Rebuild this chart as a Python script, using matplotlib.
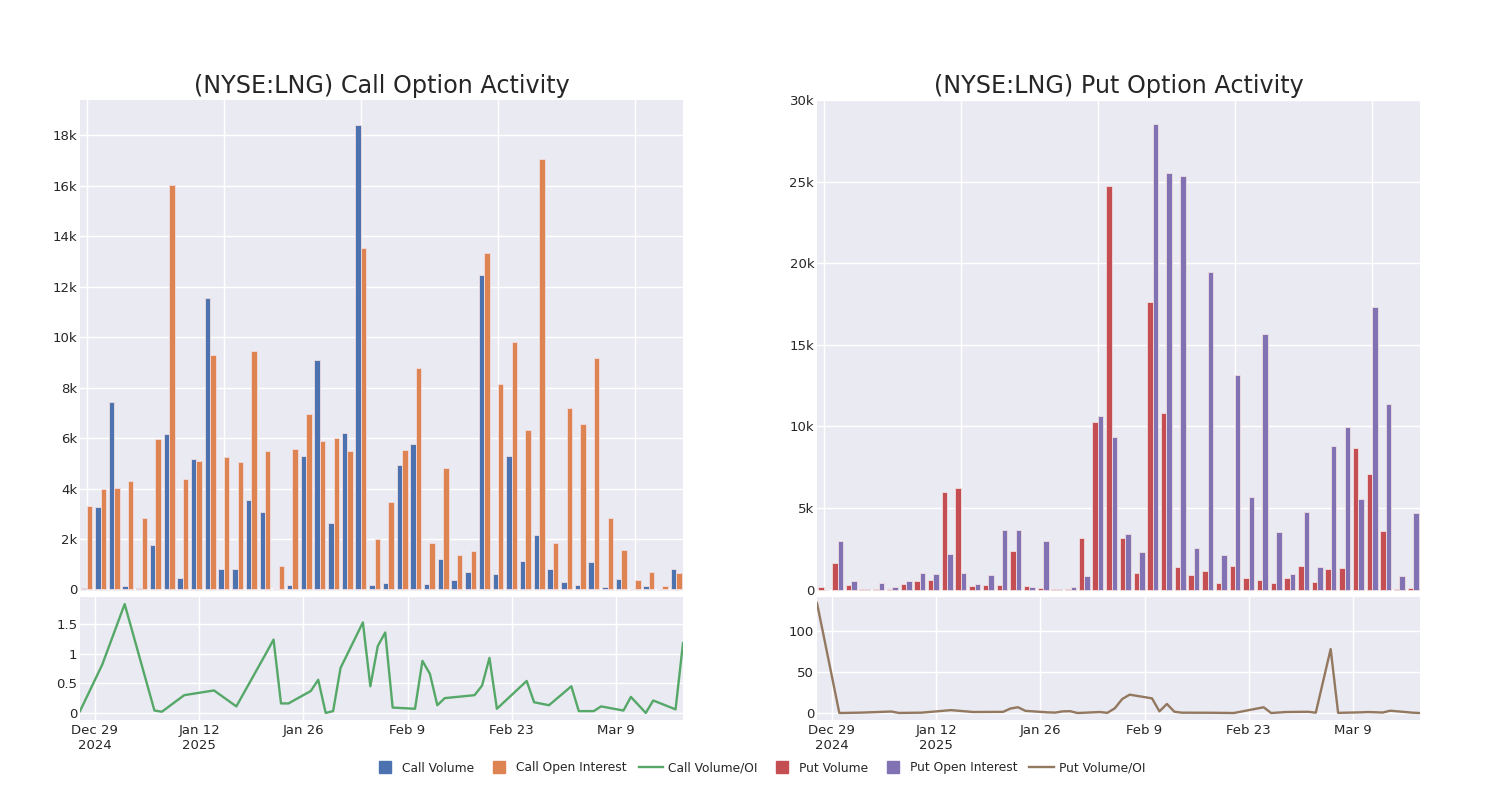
import numpy as np
import pandas as pd
import matplotlib
matplotlib.use("Agg")
import matplotlib.pyplot as plt
from matplotlib.ticker import FuncFormatter, FixedLocator
from matplotlib.lines import Line2D

# ---------------- data ----------------
dates = pd.to_datetime([
    "2024-12-27", "2024-12-30", "2025-01-02", "2025-01-06", "2025-01-07", "2025-01-10",
    "2025-01-14", "2025-01-17", "2025-01-21", "2025-01-22", "2025-01-23", "2025-01-24",
    "2025-01-27", "2025-01-28", "2025-01-29", "2025-01-30", "2025-01-31", "2025-02-03",
    "2025-02-04", "2025-02-05", "2025-02-06", "2025-02-07", "2025-02-10", "2025-02-11",
    "2025-02-12", "2025-02-13", "2025-02-14", "2025-02-18", "2025-02-19", "2025-02-20",
    "2025-02-21", "2025-02-25", "2025-02-26", "2025-02-28", "2025-03-03", "2025-03-04",
    "2025-03-06", "2025-03-07", "2025-03-10", "2025-03-11", "2025-03-13", "2025-03-14",
    "2025-03-17", "2025-03-18",
])

call_volume = [70, 3280, 7440, 140, 40, 1780, 6180, 470, 5190, 11550, 820, 820,
               3540, 3080, 0, 170, 5280, 9090, 2620, 6220, 18410, 160, 240, 4930,
               5780, 210, 1200, 380, 680, 12460, 600, 5300, 1140, 2170, 830, 290,
               180, 1070, 100, 410, 0, 120, 10, 800]
call_oi = [3320, 4000, 4030, 4300, 2820, 5970, 16030, 4390, 5100, 9300, 5270, 5060,
           9450, 5490, 930, 5570, 6940, 5870, 6000, 5490, 13540, 2000, 3470, 5540,
           8790, 1860, 4800, 1370, 1510, 13320, 8160, 9790, 6330, 17050, 1860, 7180,
           6570, 9160, 2830, 1550, 360, 680, 120, 670]
call_ratio = [0.03, 0.82, 1.84, 0.04, 0.02, 0.30, 0.38, 0.11, 1.01, 1.24, 0.16, 0.16,
              0.37, 0.56, 0.0, 0.03, 0.76, 1.53, 0.45, 1.13, 1.36, 0.09, 0.07, 0.88,
              0.66, 0.13, 0.25, 0.30, 0.46, 0.93, 0.07, 0.54, 0.18, 0.13, 0.45, 0.03,
              0.03, 0.11, 0.04, 0.27, 0.0, 0.21, 0.06, 1.18]

put_volume = [130, 1610, 300, 60, 30, 60, 350, 550, 570, 5950, 6220, 240, 290, 260,
              2360, 220, 80, 50, 20, 3140, 10290, 24740, 3140, 1000, 17650, 10820,
              1370, 880, 1160, 370, 1450, 730, 590, 370, 710, 1430, 490, 1260, 1300,
              8680, 7050, 3570, 30, 100]
put_oi = [0, 3000, 500, 40, 390, 160, 550, 1000, 940, 2180, 1020, 330, 860, 3630,
          3650, 180, 2950, 50, 180, 820, 10660, 9370, 3380, 2300, 28500, 25510,
          25370, 2530, 19440, 2120, 13170, 5650, 15690, 3500, 940, 4730, 1410, 8800,
          9990, 5540, 17300, 11370, 840, 4690]
put_ratio = [133.6, 0.0, 0.5, 1.8, 0.1, 0.4, 3.5, 1.2, 1.4, 5.5, 7.0, 2.6, 0.8, 0.5,
             2.0, 2.2, 0.0, 1.2, 0.2, 5.7, 17.0, 22.3, 17.8, 2.0, 11.0, 1.6, 0.4, 0.3,
             0.2, 0.1, 0.0, 7.0, 0.0, 1.2, 1.5, 0.4, 77.7, 0.2, 0.8, 1.2, 0.6, 2.8,
             0.4, 0.0]

date_ticks = pd.to_datetime(["2024-12-29", "2025-01-12", "2025-01-26",
                             "2025-02-09", "2025-02-23", "2025-03-09"])
date_tick_labels = ["Dec 29\n2024", "Jan 12\n2025", "Jan 26", "Feb 9", "Feb 23", "Mar 9"]

call_yticks = [0, 2000, 4000, 6000, 8000, 10000, 12000, 14000, 16000, 18000]
put_yticks = [0, 5000, 10000, 15000, 20000, 25000, 30000]
call_ratio_ticks = [0, 0.5, 1, 1.5]
put_ratio_ticks = [0, 50, 100]

titles = ["(NYSE:LNG) Call Option Activity", "(NYSE:LNG) Put Option Activity"]

# ---------------- style ----------------
BG = "#eaeaf2"
C_BLUE, C_ORANGE, C_GREEN = "#4c72b0", "#dd8452", "#55a868"
C_RED, C_PURPLE, C_BROWN = "#c44e52", "#8172b3", "#937860"
TXT = "#262626"

plt.rcParams["font.family"] = ["DejaVu Sans"]

fig = plt.figure(figsize=(15, 8), dpi=100)

W = 603 / 1500
up_b, up_h = 1 - 591 / 800, (591 - 100) / 800
lo_b, lo_h = 1 - 720 / 800, (720 - 597) / 800
lefts = [80 / 1500, 817 / 1500]

kfmt = FuncFormatter(lambda v, p: "0" if v == 0 else f"{v/1000:g}k")
rfmt = FuncFormatter(lambda v, p: f"{v:g}")


def style(ax):
    ax.set_facecolor(BG)
    for s in ax.spines.values():
        s.set_visible(False)
    ax.grid(True, color="white", linewidth=1.0)
    ax.set_axisbelow(True)
    ax.tick_params(length=0, labelsize=9.5, colors=TXT)
    ax.tick_params(axis="y", pad=2)
    ax.tick_params(axis="x", pad=3)


idx = np.arange(len(dates))
groups = [
    (call_volume, call_oi, call_ratio, C_BLUE, C_ORANGE, C_GREEN, call_yticks, 19400,
     call_ratio_ticks, (-0.12, 1.96)),
    (put_volume, put_oi, put_ratio, C_RED, C_PURPLE, C_BROWN, put_yticks, 30000,
     put_ratio_ticks, (-8.5, 141)),
]

for k, (vol, oi, ratio, cv, co, cl, yt, ytop, rt, rlim) in enumerate(groups):
    ax = fig.add_axes([lefts[k], up_b, W, up_h])
    style(ax)
    ax.bar(idx - 0.2, vol, width=0.4, color=cv, edgecolor="#f0dde0", linewidth=0.6)
    ax.bar(idx + 0.2, oi, width=0.4, color=co, edgecolor="#f0dde0", linewidth=0.6)
    ax.set_xlim(-0.5, len(dates) - 0.5)
    ax.set_ylim(-60 if k == 0 else -90, ytop)
    ax.xaxis.set_major_locator(FixedLocator([0, 10, 20, 30, 40]))
    ax.set_xticklabels([])
    ax.yaxis.set_major_locator(FixedLocator(yt))
    ax.yaxis.set_major_formatter(kfmt)
    ax.set_title(titles[k], fontsize=17.2, color=TXT, pad=5)

    ax2 = fig.add_axes([lefts[k], lo_b, W, lo_h])
    style(ax2)
    ax2.plot(dates, ratio, color=cl, linewidth=1.7)
    ax2.set_xlim(dates[0], dates[-1])
    ax2.set_ylim(*rlim)
    ax2.set_xticks(date_ticks)
    ax2.set_xticklabels(date_tick_labels)
    ax2.yaxis.set_major_locator(FixedLocator(rt))
    ax2.yaxis.set_major_formatter(rfmt)

handles = [
    Line2D([], [], marker="s", linestyle="none", markersize=9, color=C_BLUE),
    Line2D([], [], marker="s", linestyle="none", markersize=9, color=C_ORANGE),
    Line2D([], [], color=C_GREEN, linewidth=1.7),
    Line2D([], [], marker="s", linestyle="none", markersize=9, color=C_RED),
    Line2D([], [], marker="s", linestyle="none", markersize=9, color=C_PURPLE),
    Line2D([], [], color=C_BROWN, linewidth=1.7),
]
labels = ["Call Volume", "Call Open Interest", "Call Volume/OI",
          "Put Volume", "Put Open Interest", "Put Volume/OI"]
fig.legend(handles, labels, loc="center", bbox_to_anchor=(0.506, 1 - 768 / 800),
           ncol=6, frameon=False, fontsize=8.8, handlelength=2.0, columnspacing=1.0,
           handletextpad=0.4, labelcolor=TXT)

fig.savefig("out.png", dpi=100, facecolor="white")
